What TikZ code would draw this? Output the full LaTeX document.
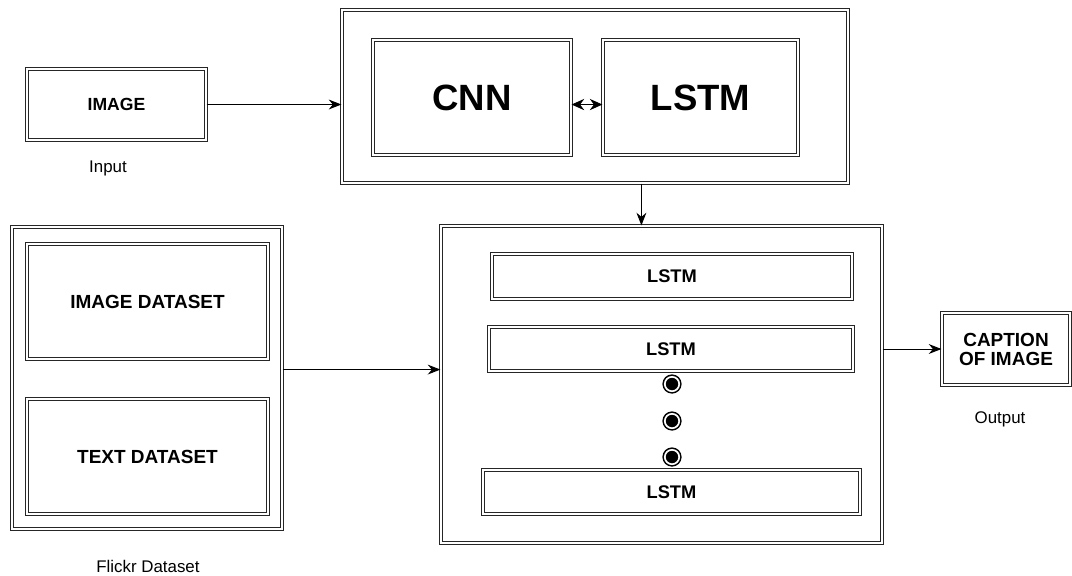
\documentclass[tikz,border=0pt]{standalone}
\usepackage{fontspec}
\setmainfont{Liberation Sans}
\usepackage{tikz}
\usetikzlibrary{positioning,arrows.meta,calc}

\begin{document}
\begin{tikzpicture}[
        x=0.025cm, y=-0.025cm,
        dblBox/.style={draw=black!85, double=white, double distance=1.5pt, line width=0.75pt, align=center, font=\bfseries, inner sep=2pt},
        arrowStyle/.style={-{Stealth[length=9pt, width=7pt]}, line width=0.7pt, draw=black},
        dotMark/.style={circle, draw=black, fill=black, double=white, double distance=1.2pt, line width=1.1pt, inner sep=0pt, minimum size=0.36cm},
        noteText/.style={font=\fontsize{12}{14}\selectfont}
    ]
        \useasboundingbox (0,0) rectangle (1072,575);

        % Eingabe
        \node[dblBox, minimum width=4.475cm, minimum height=1.775cm, font=\fontsize{12.5}{14}\selectfont\bfseries] (img) at (116.5,104.5) {IMAGE};
        \node[noteText] (inLbl) at (108,168) {Input};

        % Encoder: CNN + LSTM
        \node[dblBox, minimum width=12.65cm, minimum height=4.325cm] (sys) at (595,96.5) {};
        \node[dblBox, minimum width=4.95cm, minimum height=2.875cm, font=\fontsize{26}{28}\selectfont\bfseries] (cnn) at (472,97.5) {CNN};
        \node[dblBox, minimum width=4.875cm, minimum height=2.875cm, font=\fontsize{26}{28}\selectfont\bfseries] (lstmTop) at (700.5,97.5) {LSTM};

        % Datensatz
        \node[dblBox, minimum width=6.75cm, minimum height=7.55cm] (data) at (147,378) {};
        \node[dblBox, minimum width=6.025cm, minimum height=2.875cm, font=\fontsize{13.5}{15}\selectfont\bfseries] (imgData) at (147.5,301.5) {IMAGE DATASET};
        \node[dblBox, minimum width=6.025cm, minimum height=2.875cm, font=\fontsize{13.5}{15}\selectfont\bfseries] (txtData) at (147.5,456.5) {TEXT DATASET};
        \node[noteText] (dataLbl) at (148,566) {Flickr Dataset};

        % Decoder
        \node[dblBox, minimum width=11.025cm, minimum height=7.925cm] (dec) at (661.5,384.5) {};
        \node[dblBox, minimum width=9cm, minimum height=1.125cm, font=\fontsize{13}{14}\selectfont\bfseries] (lstmA) at (672,276.5) {LSTM};
        \node[dblBox, minimum width=9.1cm, minimum height=1.1cm, font=\fontsize{13}{14}\selectfont\bfseries] (lstmB) at (671,349) {LSTM};
        \node[dblBox, minimum width=9.425cm, minimum height=1.1cm, font=\fontsize{13}{14}\selectfont\bfseries] (lstmC) at (671.5,492) {LSTM};
        \node[dotMark] (dotA) at (672,384) {};
        \node[dotMark] (dotB) at (672,421) {};
        \node[dotMark] (dotC) at (672,457) {};

        % Ausgabe
        \node[dblBox, minimum width=3.2cm, minimum height=1.8cm, font=\fontsize{13.5}{13.5}\selectfont\bfseries] (cap) at (1006,349) {CAPTION\\OF IMAGE};
        \node[noteText] (outLbl) at (1000,419) {Output};

        % Verbindungen
        \draw[arrowStyle] (img.east) -- (img.east -| sys.west);
        \draw[{Stealth[length=9pt, width=8pt]}-{Stealth[length=9pt, width=8pt]}, line width=0.7pt] ([yshift=-5pt]cnn.east) -- ([yshift=-5pt]lstmTop.west);
        \draw[arrowStyle] ([xshift=33pt]sys.south) -- ([xshift=33pt]sys.south |- dec.north);
        \draw[arrowStyle] ([yshift=6pt]data.east) -- ([yshift=6pt]data.east -| dec.west);
        \draw[arrowStyle] (cap.west -| dec.east) -- (cap.west);
    \end{tikzpicture}
\end{document}
